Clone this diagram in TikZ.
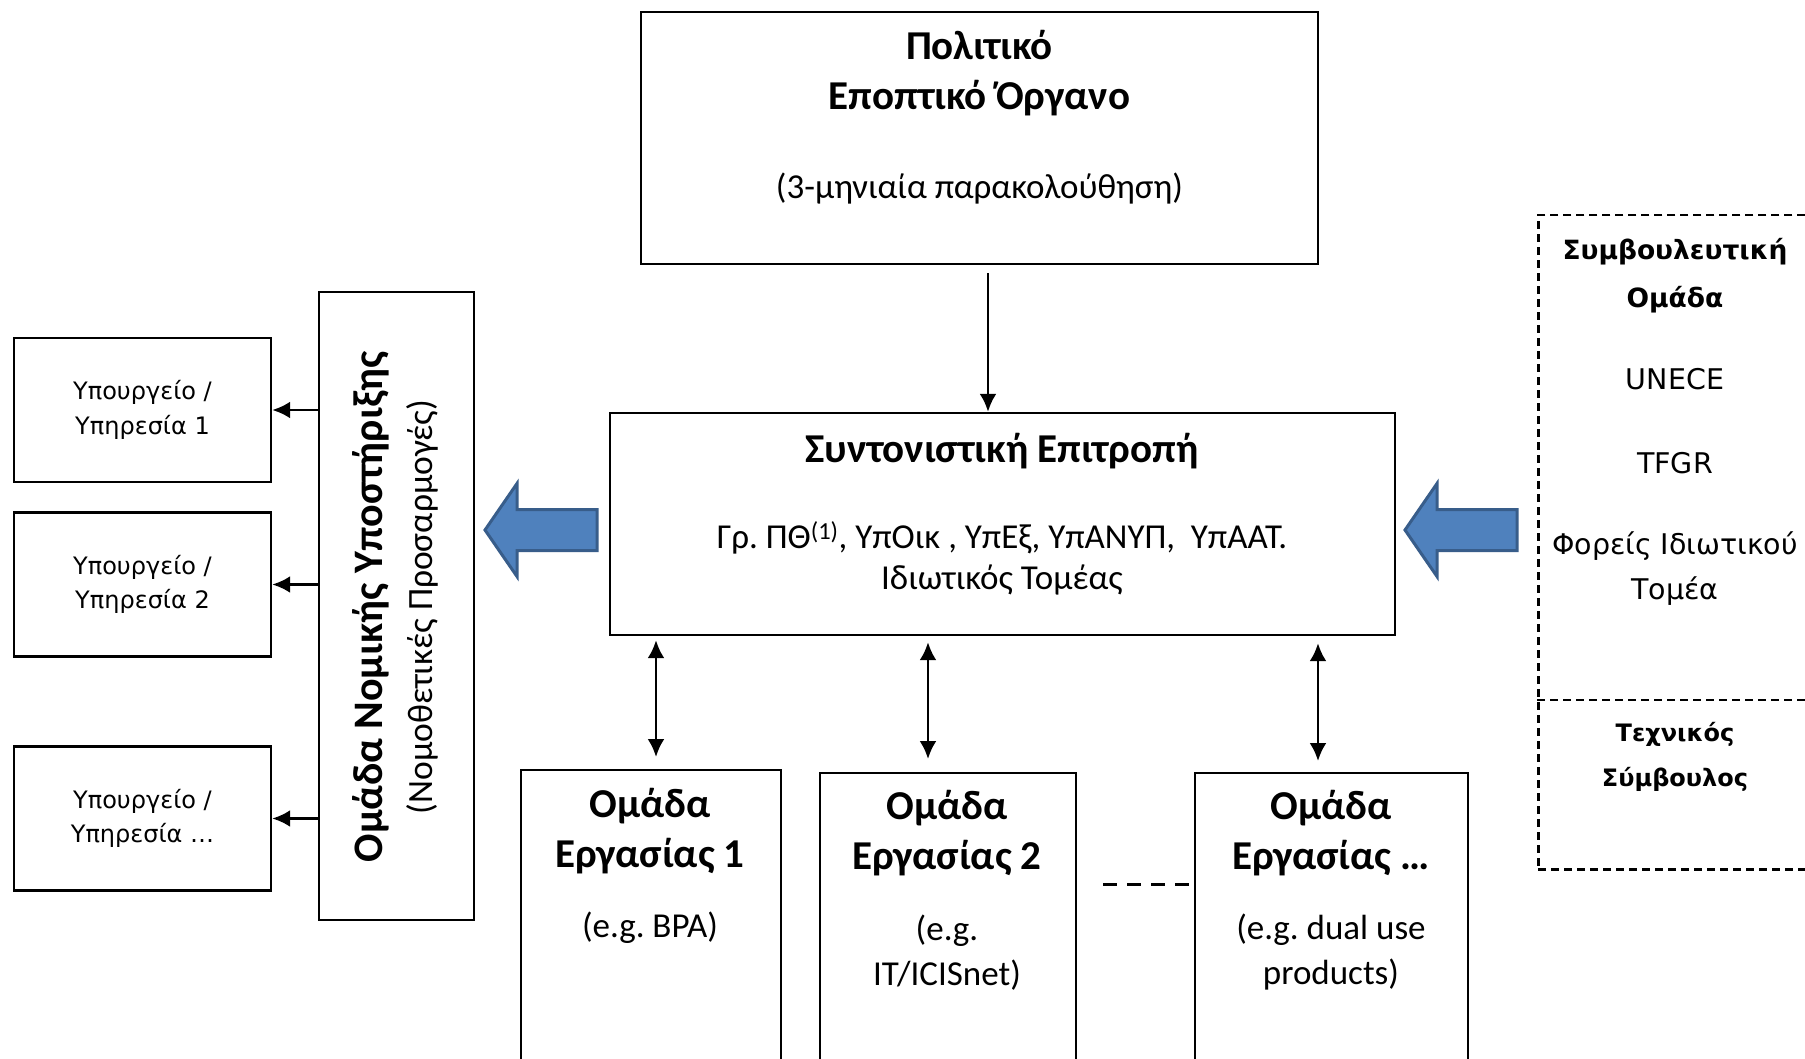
\documentclass[tikz,border=0pt]{standalone}
\usepackage{fontspec}
\setmainfont{Carlito}
\newfontfamily\tahoma{DejaVu Sans}
\usepackage{xcolor}
\usepackage{tikz}
\usetikzlibrary{arrows.meta, calc}
\definecolor{arrowBlue}{RGB}{79,129,189}
\definecolor{arrowEdge}{RGB}{56,93,138}
\frenchspacing
\newcommand{\BlockArrow}[2]{
	\def\ltipx{#1}
	\def\ltipy{#2}
	\filldraw[fill=arrowBlue, draw=arrowEdge, line width=3pt] (\ltipx,\ltipy) -- ++(32,-46.5) -- ++(0,26) -- ++(80,0) -- ++(0,41) -- ++(-80,0) -- ++(0,26) -- cycle;
}

\begin{document}
\begin{tikzpicture}[x=1pt, y=-1pt,
	box/.style={draw=black, line width=2.4pt, inner sep=0pt, align=center},
	title/.style={font=\fontsize{41}{50}\selectfont\bfseries, align=center, inner sep=0pt},
	body/.style={font=\fontsize{35}{41}\selectfont, align=center, inner sep=0pt},
	minbox/.style={box, minimum width=257pt, minimum height=144pt, font=\tahoma\fontsize{24}{34.5}\selectfont},
	wgbox/.style={box, minimum height=340pt, anchor=north},
	advhead/.style={font=\tahoma\fontsize{26.5}{48}\selectfont\bfseries, align=center, inner sep=0pt},
	advtext/.style={font=\tahoma\fontsize{28.5}{45}\selectfont, align=center, inner sep=0pt},
	dashline/.style={line width=2.5pt, dash pattern=on 8pt off 5pt},
	link/.style={line width=2.8pt, -{Latex[length=18pt,width=17pt]}},
	dlink/.style={line width=2.8pt, {Latex[length=18pt,width=17pt]}-{Latex[length=18pt,width=17pt]}}]

	\useasboundingbox (0,0) rectangle (1805,1059);
	\clip (0,0) rectangle (1805,1059);
	\fill[white] (0,0) rectangle (1805,1059);

	% top
	\node[box, minimum width=677pt, minimum height=252.5pt] (pol) at (979.5,138) {};
	\node[title] (polT) at (979.5,73) {Πολιτικό\\Εποπτικό Όργανο};
	\node[body] (polS) at (979.5,189) {(3-μηνιαία παρακολούθηση)};

	% centre
	\node[box, minimum width=785pt, minimum height=222pt] (steer) at (1002.5,524) {};
	\node[title] (steerT) at (1002,451) {Συντονιστική Επιτροπή};
	\node[body] (steerS) at (1002,558.5) {Γρ. ΠΘ\textsuperscript{(1)}, ΥπΟικ , ΥπΕξ, ΥπΑΝΥΠ,\ \ ΥπΑΑΤ.\\Ιδιωτικός Τομέας};

	\draw[link] ([xshift=8.5pt,yshift=-8pt]pol.south) -- ([xshift=8.5pt]pol.south |- steer.north);

	% left
	\node[box, minimum width=155pt, minimum height=628pt] (legal) at (396.5,606) {};
	\node[rotate=90, title] (legalT) at (371,607) {\fontsize{42}{50}\selectfont Ομάδα Νομικής Υποστήριξης};
	\node[rotate=90, font=\fontsize{35.5}{40}\selectfont, inner sep=0pt] (legalS) at (422,607) {(Νομοθετικές Προσαρμογές)};

	\node[minbox] (min1) at (142.5,410) {Υπουργείο /\\Υπηρεσία 1};
	\node[minbox] (min2) at (142.5,584.5) {Υπουργείο /\\Υπηρεσία 2};
	\node[minbox] (min3) at (142.5,818.5) {Υπουργείο /\\Υπηρεσία …};

	\draw[link] (legal.west |- min1.east) -- (min1.east);
	\draw[link] (legal.west |- min2.east) -- (min2.east);
	\draw[link] (legal.west |- min3.east) -- (min3.east);

	\BlockArrow{485}{530}
	\BlockArrow{1405}{530}

	% right
	\node[draw, dashline, minimum width=320pt, minimum height=654pt, anchor=north west] (advice) at (1537,214) {};
	\draw[dashline] (advice.west |- 0,700) -- (advice.east |- 0,700);
	\node[advhead] (adviceT) at (1675,276) {Συμβουλευτική\\Ομάδα};
	\node[advtext] (unece) at (1675,379) {UNECE};
	\node[advtext] (tfgr) at (1675,463) {TFGR};
	\node[advtext] (firms) at (1675,568.5) {Φορείς Ιδιωτικού\\Τομέα};
	\node[advhead, font=\tahoma\fontsize{24}{45}\selectfont\bfseries] (tech) at (1675,756.5) {Τεχνικός\\Σύμβουλος};

	% working groups
	\node[wgbox, minimum width=260pt] (wg1) at (651,769) {};
	\node[wgbox, minimum width=256pt] (wg2) at (948,772) {};
	\node[wgbox, minimum width=273pt] (wg3) at (1331.5,772) {};

	\node[title] (wg1T) at (650,831) {Ομάδα\\Εργασίας 1};
	\node[title] (wg2T) at (947,833) {Ομάδα\\Εργασίας 2};
	\node[title] (wg3T) at (1331,833) {Ομάδα\\Εργασίας …};
	\node[body] (wg1S) at (650,928) {(e.g. BPA)};
	\node[body, font=\fontsize{35}{45}\selectfont] (wg2S) at (947,952.5) {(e.g.\\IT/ICISnet)};
	\node[body, font=\fontsize{35}{45}\selectfont] (wg3S) at (1331,952.5) {(e.g. dual use\\products)};

	\draw[dlink] ($(wg1.north |- steer.south)+(5,4)$) -- ($(wg1.north)+(5,-12)$);
	\draw[dlink] ($(wg2.north |- steer.south)+(-20,6)$) -- ($(wg2.north)+(-20,-13)$);
	\draw[dlink] ($(wg3.north |- steer.south)+(-13.5,7)$) -- ($(wg3.north)+(-13.5,-11)$);

	\draw[line width=3pt, dash pattern=on 14pt off 10pt] ($(wg2.north east)+(26,112)$) -- ($(wg3.north west)+(0,112)$);

\end{tikzpicture}
\end{document}
